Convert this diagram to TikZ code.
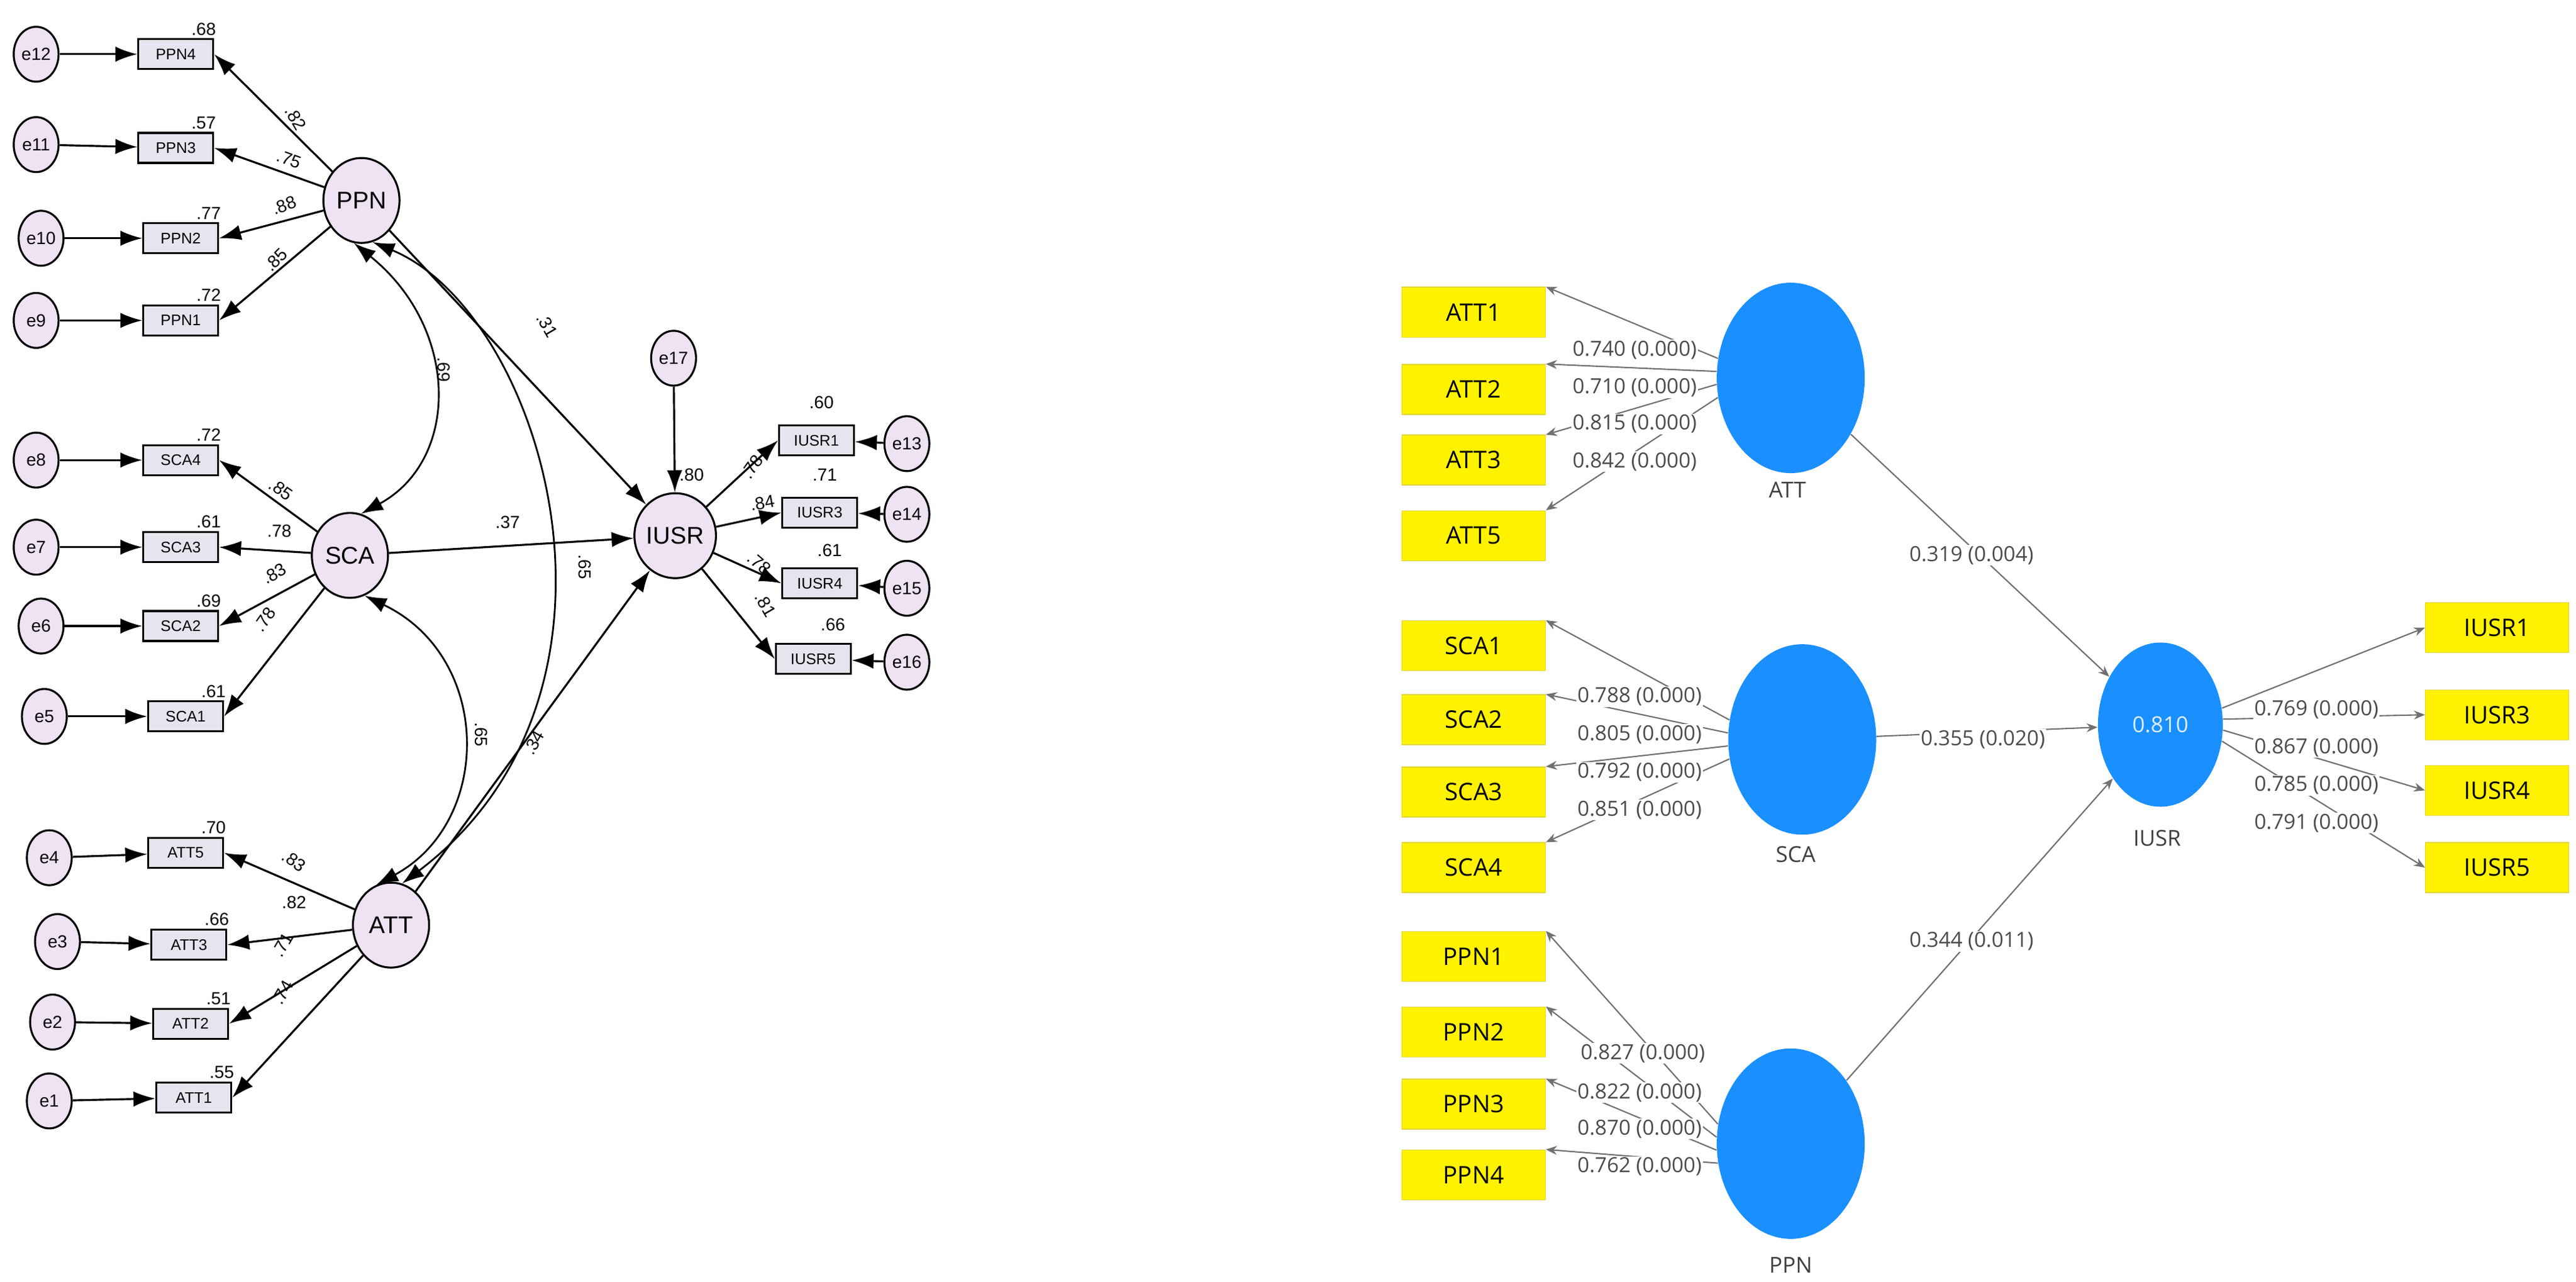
\documentclass[tikz,border=0pt]{standalone}
\usepackage{fontspec}
\setmainfont{Liberation Sans}
\newfontfamily\rfont{Open Sans}
\usetikzlibrary{shapes.geometric,arrows.meta}
\definecolor{lav}{HTML}{EEE2F3}
\definecolor{boxlav}{HTML}{E8E4EF}
\definecolor{plsblue}{HTML}{1A8FFF}
\definecolor{plsgrey}{HTML}{707070}
\begin{document}
\begin{tikzpicture}[x=0.026327cm,y=-0.026327cm,
 err/.style={ellipse,draw,line width=0.9pt,fill=lav,minimum width=0.72cm,minimum height=0.88cm,inner sep=0pt,font=\fontsize{8}{8}\selectfont},
 obs/.style={rectangle,draw,line width=0.9pt,fill=boxlav,minimum width=1.2cm,minimum height=0.48cm,inner sep=0pt,font=\fontsize{7}{7}\selectfont},
 lat/.style={ellipse,draw,line width=0.9pt,fill=lav,minimum width=1.22cm,minimum height=1.36cm,inner sep=0pt,font=\fontsize{11}{11}\selectfont},
 coef/.style={font=\fontsize{8}{8}\selectfont,inner sep=1pt},
 arr/.style={line width=0.9pt,-{Latex[length=10pt,width=7pt]}},
 darr/.style={line width=0.8pt,{Latex[length=10pt,width=7pt]}-{Latex[length=10pt,width=7pt]}},
 ybox/.style={rectangle,fill=yellow,draw={rgb,255:red,225;green,215;blue,60},minimum width=2.3cm,minimum height=0.8cm,inner sep=0pt,font=\rfont\fontsize{11}{11}\selectfont},
 blat/.style={ellipse,fill=plsblue,minimum width=2.37cm,minimum height=3.05cm,inner sep=0pt},
 rlab/.style={font=\rfont\fontsize{10}{10}\selectfont,text=black!75},
 load/.style={font=\rfont\fontsize{9.5}{9.5}\selectfont,text=black!70,fill=white,inner sep=0.5pt},
 garr/.style={draw=plsgrey,line width=0.6pt,-{Stealth[length=5pt,width=4pt]}}]
\useasboundingbox (0,0) rectangle (1568,780);
% ---------- LEFT (AMOS) ----------
\node[lat] (PPN) at (220,122) {PPN};
\node[lat] (SCA) at (213,338) {SCA};
\node[lat] (ATT) at (238,563) {ATT};
\node[lat] (IUSR) at (411,326) {IUSR};
\node[err] (e17) at (410,218) {e17};
\foreach \n/\ex/\ey/\bx/\by/\r/\rv in {
 PPN4/22/33/107/33/.68/a, PPN3/22/88/107/90/.57/b, PPN2/25/145/110/145/.77/c, PPN1/22/195/110/195/.72/d,
 SCA4/22/280/110/280/.72/e, SCA3/22/333/110/333/.61/f, SCA2/25/381/110/381/.69/g, SCA1/27/436/113/436/.61/h,
 ATT5/30/522/113/519/.70/i, ATT3/35/573/115/575/.66/j, ATT2/32/622/116/623/.51/k, ATT1/30/670/118/668/.55/l}{
 \node[obs] (b\n) at (\bx,\by) {\n};
 \node[coef,anchor=south] (r\n) at (\bx+17,\by-10) {\r};
}
\node[err] (e12) at (22,33) {e12};
\node[err] (e11) at (22,88) {e11};
\node[err] (e10) at (25,145) {e10};
\node[err] (e9) at (22,195) {e9};
\node[err] (e8) at (22,280) {e8};
\node[err] (e7) at (22,333) {e7};
\node[err] (e6) at (25,381) {e6};
\node[err] (e5) at (27,436) {e5};
\node[err] (e4) at (30,522) {e4};
\node[err] (e3) at (35,573) {e3};
\node[err] (e2) at (32,622) {e2};
\node[err] (e1) at (30,670) {e1};
\foreach \e/\b in {e12/PPN4,e11/PPN3,e10/PPN2,e9/PPN1,e8/SCA4,e7/SCA3,e6/SCA2,e5/SCA1,e4/ATT5,e3/ATT3,e2/ATT2,e1/ATT1}
 \draw[arr] (\e) -- (b\b);
\foreach \b in {PPN4,PPN3,PPN2,PPN1} \draw[arr] (PPN) -- (b\b.east);
\foreach \b in {SCA4,SCA3,SCA2,SCA1} \draw[arr] (SCA) -- (b\b.east);
\foreach \b in {ATT5,ATT3,ATT2,ATT1} \draw[arr] (ATT) -- (b\b.east);
% IUSR indicators
\node[obs] (bIUSR1) at (497,268) {IUSR1};
\node[obs] (bIUSR3) at (499,312) {IUSR3};
\node[obs] (bIUSR4) at (499,355) {IUSR4};
\node[obs] (bIUSR5) at (495,401) {IUSR5};
\node[err] (e13) at (552,270) {e13};
\node[err] (e14) at (552,313) {e14};
\node[err] (e15) at (552,358) {e15};
\node[err] (e16) at (552,403) {e16};
\foreach \b/\e in {IUSR1/e13,IUSR3/e14,IUSR4/e15,IUSR5/e16}{
 \draw[arr] (IUSR) -- (b\b.west);
 \draw[arr] (\e) -- (b\b);}
\node[coef] (r13) at (500,245) {.60};
\node[coef] (r14) at (502,289) {.71};
\node[coef] (r15) at (505,335) {.61};
\node[coef] (r16) at (507,380) {.66};
\node[coef] (r17) at (421,289) {.80};
\draw[arr] (e17) -- (IUSR);
\draw[arr] (PPN) -- (IUSR);
\draw[arr] (SCA) -- (IUSR);
\draw[arr] (ATT) -- (IUSR);
\draw[darr] (PPN.-100) .. controls (280,200) and (280,280) .. (SCA.75);
\draw[darr] (PPN.-75) .. controls (330,190) and (400,420) .. (ATT.75);
\draw[darr] (SCA.-70) .. controls (300,400) and (300,500) .. (ATT.110);
% coefficients
\node[coef,rotate=-60] (c1) at (180,72) {.82};
\node[coef,rotate=-20] (c2) at (176,97) {.75};
\node[coef,rotate=20] (c3) at (173,125) {.88};
\node[coef,rotate=45] (c4) at (168,158) {.85};
\node[coef,rotate=-60] (c5) at (333,198) {.31};
\node[coef,rotate=-90] (c6) at (270,225) {.69};
\node[coef] (c7) at (309,318) {.37};
\node[coef,rotate=-90] (c8) at (356,345) {.65};
\node[coef,rotate=-90] (c9) at (293,447) {.65};
\node[coef,rotate=60] (c10) at (325,452) {.34};
\node[coef,rotate=-35] (c11) at (171,298) {.85};
\node[coef] (c12) at (170,323) {.78};
\node[coef,rotate=30] (c13) at (167,349) {.83};
\node[coef,rotate=55] (c14) at (161,377) {.78};
\node[coef,rotate=-35] (c15) at (179,524) {.83};
\node[coef] (c16) at (179,549) {.82};
\node[coef,rotate=60] (c17) at (172,575) {.71};
\node[coef,rotate=60] (c18) at (172,604) {.74};
\node[coef,rotate=55] (c19) at (458,284) {.78};
\node[coef,rotate=10] (c20) at (464,306) {.84};
\node[coef,rotate=-40] (c21) at (462,343) {.78};
\node[coef,rotate=-60] (c22) at (466,368) {.81};
% ---------- RIGHT (SmartPLS) ----------
\node[blat] (rATT) at (1090,230) {};
\node[blat] (rSCA) at (1097,450) {};
\node[blat] (rPPN) at (1090,696) {};
\node[blat,minimum width=2.0cm,minimum height=2.63cm,text=white!85!plsblue,font=\rfont\fontsize{10}{10}\selectfont] (rIUSR) at (1315,441) {0.810};
\node[rlab] (lATT) at (1088,298) {ATT};
\node[rlab] (lSCA) at (1093,520) {SCA};
\node[rlab] (lIUSR) at (1313,510) {IUSR};
\node[rlab] (lPPN) at (1090,770) {PPN};
\foreach \n/\y in {ATT1/190,ATT2/237,ATT3/280,ATT5/326,SCA1/393,SCA2/438,SCA3/482,SCA4/528,PPN1/582,PPN2/628,PPN3/672,PPN4/715}
 \node[ybox] (y\n) at (897,\y) {\n};
\foreach \n/\y in {IUSR1/382,IUSR3/435,IUSR4/481,IUSR5/528}
 \node[ybox] (y\n) at (1520,\y) {\n};
\foreach \b/\a in {ATT1/165,ATT2/175,ATT3/185,ATT5/195} \draw[garr] (rATT.\a) -- (y\b.north east);
\foreach \b/\a in {SCA1/165,SCA2/175,SCA3/185,SCA4/195} \draw[garr] (rSCA.\a) -- (y\b.north east);
\foreach \b/\a in {PPN1/165,PPN2/175,PPN3/185,PPN4/195} \draw[garr] (rPPN.\a) -- (y\b.north east);
\foreach \b/\a in {IUSR1/15,IUSR3/5,IUSR4/-5,IUSR5/-15} \draw[garr] (rIUSR.\a) -- (y\b.west);
\draw[garr] (rATT) -- (rIUSR);
\draw[garr] (rSCA) -- (rIUSR);
\draw[garr] (rPPN) -- (rIUSR);
\node[load] (p1) at (1200,338) {0.319 (0.004)};
\node[load] (p2) at (1207,450) {0.355 (0.020)};
\node[load] (p3) at (1200,573) {0.344 (0.011)};
\node[load] (a1) at (995,213) {0.740 (0.000)};
\node[load] (a2) at (995,236) {0.710 (0.000)};
\node[load] (a3) at (995,258) {0.815 (0.000)};
\node[load] (a4) at (995,281) {0.842 (0.000)};
\node[load] (s1) at (998,424) {0.788 (0.000)};
\node[load] (s2) at (998,447) {0.805 (0.000)};
\node[load] (s3) at (998,470) {0.792 (0.000)};
\node[load] (s4) at (998,493) {0.851 (0.000)};
\node[load] (q1) at (1000,641) {0.827 (0.000)};
\node[load] (q2) at (998,665) {0.822 (0.000)};
\node[load] (q3) at (998,687) {0.870 (0.000)};
\node[load] (q4) at (998,710) {0.762 (0.000)};
\node[load] (u1) at (1410,432) {0.769 (0.000)};
\node[load] (u2) at (1410,455) {0.867 (0.000)};
\node[load] (u3) at (1410,478) {0.785 (0.000)};
\node[load] (u4) at (1410,501) {0.791 (0.000)};
\end{tikzpicture}
\end{document}
